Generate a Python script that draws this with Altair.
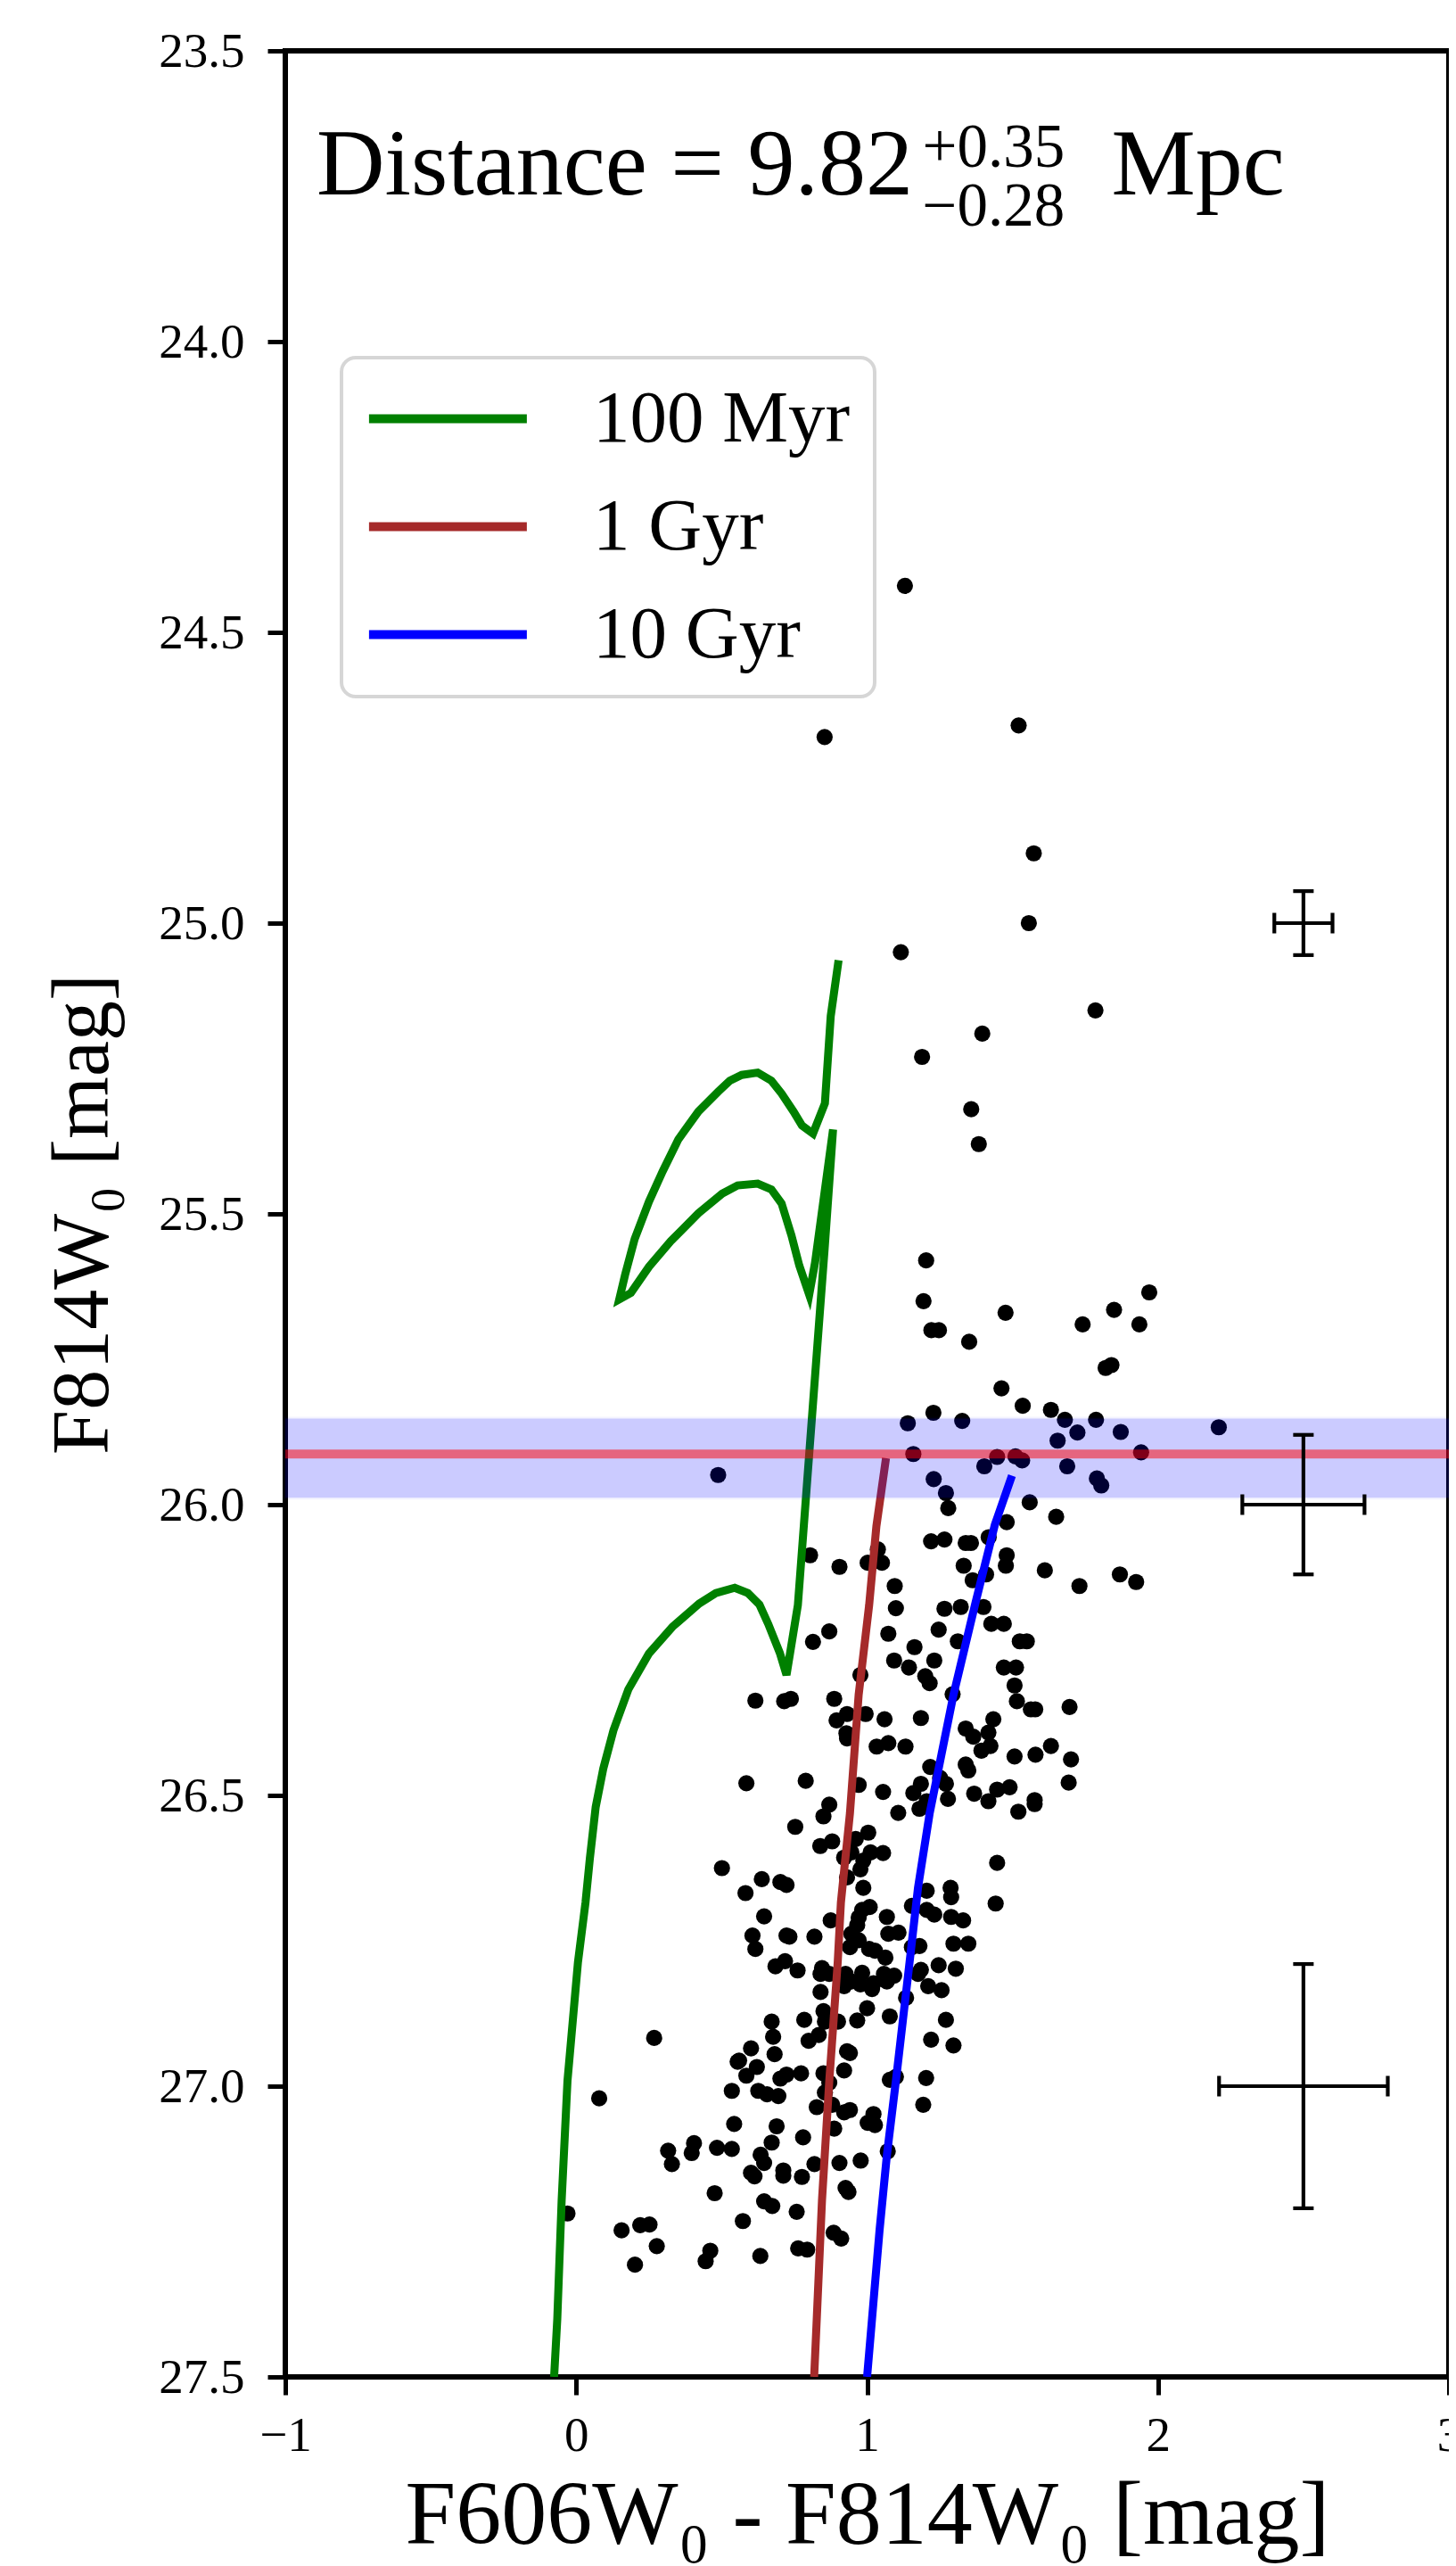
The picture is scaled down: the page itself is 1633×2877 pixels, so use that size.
import altair as alt
import pandas as pd

# ---------------- data ----------------
scatter_x = [
    1.13, 0.854, 1.521, 1.573, 1.556, 1.116, 1.785, 1.396, 1.189, 1.358, 1.384, 1.203, 1.194, 1.221, 1.247,
    1.351, 1.476, 1.741, 1.849, 1.936, 1.970, 1.82, 1.84, 1.462, 1.535,
    1.228, 1.140, 1.327, 1.159, 1.403, 1.229, 1.271, 1.279, 0.488, 1.22, 1.266, 1.339, 1.357, 1.418, 0.804,
    0.905, 1.002, 1.037, 1.051, 1.095, 1.332, 1.363,
    1.632, 1.680, 1.787, 1.723, 1.872, 2.209, 1.655, 1.447, 1.51, 1.533, 1.942, 1.688, 1.79, 1.805, 1.559,
    1.65, 1.48, 1.48, 1.477, 1.409, 1.611, 1.869, 1.925, 1.73,
    1.40, 1.427, 1.47, 1.525, 1.549, 1.47, 1.512, 1.507, 1.515, 1.563, 1.578, 1.696, 1.434, 1.417, 1.393,
    1.424, 1.507, 1.579, 1.632, 1.701, 1.693, 1.417, 1.447, 1.49, 1.52, 1.576, 1.576, 1.447, 1.442,
    1.099, 1.266, 1.322, 0.87, 0.814, 1.073, 1.246, 1.163, 1.093, 1.144, 1.231, 1.312, 1.20, 1.215, 0.977,
    1.294, 0.616, 0.715, 0.738, 0.887, 0.931, 0.895, 0.995, 1.06, 1.185, 0.929, 0.931, 1.033, 1.073, 1.132,
    1.339, 1.365, 1.217, 1.339, 1.348, 1.251, 1.271, 0.971, 1.055, 1.185, 1.159, 1.18, 1.205, 1.278, 1.368,
    1.107, 0.585, 0.789, 0.87, 0.85, 0.753, 1.004, 0.961, 0.88, 0.839, 0.921, 0.946, 1.012, 1.055, 0.987,
    0.977, 0.931, 0.501, 0.638, 0.702, 0.723, 0.582, 0.987, 1.205, 1.287, 1.289, 1.154, 1.205, 1.231, 0.983,
    1.009, 0.971, 0.875, 1.068, 1.289, 1.33, 0.646, 0.966, 0.946, 0.971, 0.606, 0.616, 0.723, 0.733, 0.819,
    1.073, 1.108, 0.941, 1.007, 1.027, 1.063, 1.154, 1.18, 1.297, 1.348, 0.718,
    0.685, 0.761, 0.845, 0.84, 0.87, 0.926, 0.921, 0.946, 0.983, 0.977, 1.017, 1.022, 1.058, 1.068, 1.093,
    1.175, 1.185, 1.246, 1.21, 1.256, 0.84, 1.134, 1.0, 0.85, 0.855, 0.9, 0.966, 1.078, 1.271, 0.784,
    0.672, 0.677, 0.799, 0.834, 1.22, 1.297, 0.268, 0.601, 0.682, 0.555, 0.56, 0.621, 0.585, 0.931, 0.941,
    0.921, 0.773, 0.702, 0.723, 0.85, 0.87, 0.855, 1.099, 1.078, 1.203, 0.535, 0.626, 0.656, 0.695, 0.079,
    0.827, 0.88, 0.921, 0.941, 1.193, 1.022, 1.002, 1.027, 0.543, 0.689, 0.887, 0.78, 0.672, 0.316, 0.329,
    0.405, 0.397, 0.484, 0.535, 0.634, 0.646, 0.601, 0.613, 0.712, 0.712, 0.776, 0.819, 0.905, 0.978, 1.071,
    0.926, 0.936, 0.476, 0.646, 0.674, 0.758, 0.573, -0.03, 0.156, 0.22, 0.252, 0.885, 0.911, 0.277, 0.202,
    0.461, 0.445, 0.633, 0.763, 0.794, 1.305,
]
scatter_y = [
    24.42, 24.68, 24.66, 24.88, 25.0, 25.05, 25.15, 25.19, 25.23, 25.32, 25.38, 25.58, 25.65, 25.70, 25.70,
    25.72, 25.67, 25.69, 25.665, 25.69, 25.635, 25.765, 25.76, 25.80, 25.83,
    25.842, 25.86, 25.856, 25.913, 25.934, 25.956, 25.98, 26.006, 25.949, 26.063, 26.06, 26.066, 26.066,
    26.056, 26.087, 26.107, 26.10, 26.077, 26.10, 26.14, 26.105, 26.13,
    25.837, 25.854, 25.854, 25.876, 25.875, 25.867, 25.89, 25.918, 25.917, 25.924, 25.91, 25.934, 25.955,
    25.967, 25.996, 26.021, 26.03, 26.087, 26.105, 26.12, 26.113, 26.12, 26.133, 26.14,
    26.176, 26.205, 26.205, 26.235, 26.235, 26.28, 26.28, 26.311, 26.338, 26.352, 26.352, 26.348, 26.369,
    26.392, 26.423, 26.415, 26.433, 26.43, 26.415, 26.438, 26.478, 26.51, 26.49, 26.486, 26.528, 26.508,
    26.515, 26.616, 26.686,
    26.178, 26.179, 26.176, 26.218, 26.236, 26.222, 26.215, 26.245, 26.268, 26.28, 26.268, 26.235, 26.295,
    26.307, 26.293, 26.326, 26.337, 26.338, 26.334, 26.334, 26.36, 26.371, 26.36, 26.369, 26.367, 26.393,
    26.402, 26.416, 26.41, 26.416, 26.385, 26.399, 26.451, 26.447, 26.457, 26.47, 26.48, 26.482, 26.494,
    26.48, 26.496, 26.523, 26.51, 26.506, 26.497, 26.53, 26.479, 26.475, 26.516, 26.536, 26.554, 26.564,
    26.575, 26.579, 26.587, 26.607, 26.598, 26.598, 26.599, 26.612, 26.627, 26.641, 26.625, 26.644, 26.649,
    26.654, 26.668, 26.659, 26.664, 26.659, 26.675, 26.69, 26.697, 26.705, 26.697, 26.692, 26.71, 26.715,
    26.709, 26.709, 26.715, 26.708, 26.723, 26.738, 26.749, 26.741, 26.764, 26.741, 26.743, 26.743, 26.738,
    26.736, 26.761, 26.764, 26.767, 26.779, 26.761, 26.759, 26.755, 26.755, 26.785,
    26.794, 26.801, 26.797, 26.807, 26.807, 26.807, 26.828, 26.82, 26.805, 26.825, 26.833, 26.823, 26.807,
    26.82, 26.81, 26.807, 26.8, 26.792, 26.828, 26.835, 26.838, 26.848, 26.866, 26.871, 26.889, 26.889,
    26.887, 26.88, 26.886, 26.886, 26.889, 26.915, 26.922, 26.912, 26.92, 26.93, 26.917, 26.935, 26.945,
    26.958, 26.956, 26.967, 26.982, 26.94, 26.943, 26.973, 26.978, 26.987, 26.98, 26.978, 26.994, 27.011,
    26.984, 26.989, 26.986, 27.008, 27.008, 27.014, 27.017, 27.021, 27.036, 27.032, 27.045, 27.041, 27.032,
    27.048, 27.063, 27.067, 27.065, 27.069, 27.073, 27.088, 27.097, 27.111, 27.134, 27.098, 27.115, 27.106,
    27.108, 27.118, 27.132, 27.149, 27.155, 27.145, 27.154, 27.156, 27.134, 27.132, 27.128, 27.112, 27.175,
    27.182, 27.184, 27.198, 27.206, 27.216, 27.232, 27.219, 27.248, 27.239, 27.238, 27.252, 27.262, 27.275,
    27.307, 27.283, 27.301, 27.292, 27.279, 27.281, 26.798,
]

# isochrones (colour, magnitude), in path order
iso_100myr_x = [0.902, 0.875, 0.855, 0.814, 0.776, 0.747, 0.706, 0.671, 0.624, 0.569, 0.528, 0.488, 0.42,
                0.351, 0.297, 0.25, 0.201, 0.168, 0.148, 0.188, 0.25, 0.325, 0.42, 0.502, 0.555, 0.624,
                0.671, 0.706, 0.74, 0.767, 0.801, 0.821, 0.883, 0.854, 0.801, 0.762, 0.723, 0.70, 0.66,
                0.63, 0.59, 0.545, 0.48, 0.423, 0.331, 0.25, 0.179, 0.128, 0.093, 0.067, 0.047, 0.032,
                0.006, -0.03, -0.05, -0.065, -0.076]
iso_100myr_y = [25.064, 25.16, 25.31, 25.362, 25.348, 25.324, 25.293, 25.271, 25.257, 25.261, 25.271,
                25.29, 25.324, 25.372, 25.427, 25.479, 25.543, 25.605, 25.647, 25.636, 25.591, 25.547,
                25.499, 25.465, 25.451, 25.448, 25.458, 25.482, 25.537, 25.589, 25.639, 25.584, 25.355,
                25.56, 25.913, 26.173, 26.293, 26.255, 26.205, 26.172, 26.152, 26.143, 26.152, 26.17,
                26.21, 26.256, 26.318, 26.388, 26.454, 26.52, 26.608, 26.684, 26.787, 26.991, 27.196,
                27.40, 27.5]
iso_1gyr_x = [1.065, 1.032, 1.007, 0.971, 0.941, 0.91, 0.899, 0.87, 0.845, 0.827, 0.818]
iso_1gyr_y = [25.92, 26.037, 26.173, 26.327, 26.531, 26.684, 26.787, 26.991, 27.196, 27.40, 27.5]
iso_10gyr_x = [1.498, 1.439, 1.372, 1.297, 1.256, 1.215, 1.175, 1.146, 1.099, 1.068, 1.043, 1.017, 1.0]
iso_10gyr_y = [25.95, 26.035, 26.17, 26.327, 26.429, 26.531, 26.659, 26.787, 26.991, 27.119, 27.247,
               27.40, 27.5]
iso_labels = ["100 Myr", "1 Gyr", "10 Gyr"]
iso_colors = ["#008000", "#a52a2a", "#0000ff"]

# TRGB magnitude and its uncertainty band
trgb_mag = 25.913
trgb_lo, trgb_hi = 25.852, 25.988

# representative photometric errors
err_x = [2.5, 2.5, 2.5]
err_y = [25.0, 26.0, 27.0]
err_dx = [0.10, 0.21, 0.29]
err_dy = [0.055, 0.12, 0.21]

x_ticks = [-1, 0, 1, 2, 3]
y_ticks = [23.5, 24.0, 24.5, 25.0, 25.5, 26.0, 26.5, 27.0, 27.5]

# annotation pieces
ann_main = "Distance = 9.82"
ann_sup = "+0.35"
ann_sub = "\u22120.28"
ann_unit = "Mpc"

# ---------------- build ----------------
FONT = "Liberation Serif"
W, H = 1305, 2608

xs = alt.Scale(domain=[-1, 3], nice=False, zero=False)
ys = alt.Scale(domain=[23.5, 27.5], reverse=True, nice=False, zero=False)

x_axis = alt.Axis(title="F606W\u2080 - F814W\u2080 [mag]", values=x_ticks, format="d", grid=False,
                  domain=False, tickSize=20, tickWidth=5, tickColor="black",
                  labelFont=FONT, labelFontSize=55, labelColor="black", labelPadding=19,
                  labelFlush=False, labelOverlap=False, labelBound=False,
                  titleFont=FONT, titleFontSize=102, titleFontWeight="normal", titleColor="black",
                  titleY=186, titleBaseline="alphabetic", titleAlign="center")
y_axis = alt.Axis(title="F814W\u2080 [mag]", values=y_ticks, format=".1f", grid=False,
                  domain=False, tickSize=20, tickWidth=5, tickColor="black",
                  labelFont=FONT, labelFontSize=55, labelColor="black", labelPadding=26,
                  labelFlush=False, labelOverlap=False, labelBound=False,
                  titleFont=FONT, titleFontSize=90, titleFontWeight="normal", titleColor="black",
                  titleAngle=270, titleX=-200, titleY=H / 2, titleBaseline="alphabetic",
                  titleAlign="center")


def X(field="x"):
    return alt.X(f"{field}:Q", scale=xs, axis=x_axis)


def Y(field="y"):
    return alt.Y(f"{field}:Q", scale=ys, axis=y_axis)


rows = []
for lab, xx, yy in zip(iso_labels, [iso_100myr_x, iso_1gyr_x, iso_10gyr_x],
                       [iso_100myr_y, iso_1gyr_y, iso_10gyr_y]):
    for i, (a, b) in enumerate(zip(xx, yy)):
        rows.append({"age": lab, "x": a, "y": b, "i": i})
iso_df = pd.DataFrame(rows)

pts_df = pd.DataFrame({"x": scatter_x, "y": scatter_y})
band_df = pd.DataFrame({"x": [-1], "x2": [3], "y": [trgb_lo], "y2": [trgb_hi]})
trgb_df = pd.DataFrame({"y": [trgb_mag]})
err_df = pd.DataFrame({"x": err_x, "y": err_y,
                       "xlo": [a - d for a, d in zip(err_x, err_dx)],
                       "xhi": [a + d for a, d in zip(err_x, err_dx)],
                       "ylo": [a - d for a, d in zip(err_y, err_dy)],
                       "yhi": [a + d for a, d in zip(err_y, err_dy)]})

legend = alt.Legend(title=None, orient="none", legendX=63, legendY=344,
                    symbolType="M-1.7,0H6.3", symbolSize=1958, symbolStrokeWidth=10,
                    labelFont=FONT, labelFontSize=83, labelColor="black", labelOffset=172,
                    labelLimit=0, padding=27, rowPadding=37,
                    strokeColor="#d6d6d6", fillColor="white", cornerRadius=16)

points = alt.Chart(pts_df).mark_circle(size=330, color="black", opacity=1).encode(x=X(), y=Y())

lines = alt.Chart(iso_df).mark_line(strokeWidth=9, clip=True).encode(
    x=X(), y=Y(),
    color=alt.Color("age:N", scale=alt.Scale(domain=iso_labels, range=iso_colors), legend=legend),
    order=alt.Order("i:Q"),
)

band = alt.Chart(band_df).mark_rect(color="blue", opacity=0.2, stroke="blue", strokeWidth=4,
                                    strokeOpacity=0.2).encode(
    x=X(), x2="x2:Q", y=Y(), y2="y2:Q")

trgb = alt.Chart(trgb_df).mark_rule(color="red", opacity=0.5, strokeWidth=10).encode(y=Y())

eb_h = alt.Chart(err_df).mark_rule(color="black", strokeWidth=4.2).encode(x=X("xlo"), x2="xhi:Q", y=Y())
eb_v = alt.Chart(err_df).mark_rule(color="black", strokeWidth=4.2).encode(x=X(), y=Y("ylo"), y2="yhi:Q")
cap_t = alt.Chart(err_df).mark_tick(orient="horizontal", size=23, thickness=4.2, color="black",
                                    opacity=1).encode(x=X(), y=Y("ylo"))
cap_b = alt.Chart(err_df).mark_tick(orient="horizontal", size=23, thickness=4.2, color="black",
                                    opacity=1).encode(x=X(), y=Y("yhi"))
cap_l = alt.Chart(err_df).mark_tick(orient="vertical", size=23, thickness=4.2, color="black",
                                    opacity=1).encode(x=X("xlo"), y=Y())
cap_r = alt.Chart(err_df).mark_tick(orient="vertical", size=23, thickness=4.2, color="black",
                                    opacity=1).encode(x=X("xhi"), y=Y())

main_df = pd.DataFrame({"t": [ann_main, ann_unit], "x": [-0.893, 1.84], "y": [23.747, 23.747]})
script_df = pd.DataFrame({"t": [ann_sup, ann_sub], "x": [1.19, 1.19], "y": [23.700, 23.800]})
ann_main_l = alt.Chart(main_df).mark_text(
    font=FONT, fontSize=106, align="left", baseline="alphabetic", color="black").encode(
    x=X(), y=Y(), text="t:N")
ann_script_l = alt.Chart(script_df).mark_text(
    font=FONT, fontSize=69, align="left", baseline="alphabetic", color="black").encode(
    x=X(), y=Y(), text="t:N")

chart = alt.layer(points, lines, band, trgb, eb_h, eb_v, cap_t, cap_b, cap_l, cap_r,
                  ann_main_l, ann_script_l).properties(
    width=W, height=H,
    autosize=alt.AutoSizeParams(type="none"),
    padding={"left": 312, "top": 49, "right": 0, "bottom": 210},
    background="white",
).configure_view(stroke="black", strokeWidth=6).configure_legend(strokeWidth=4)

chart.save("out.html", embed_options={"renderer": "svg", "actions": False})
